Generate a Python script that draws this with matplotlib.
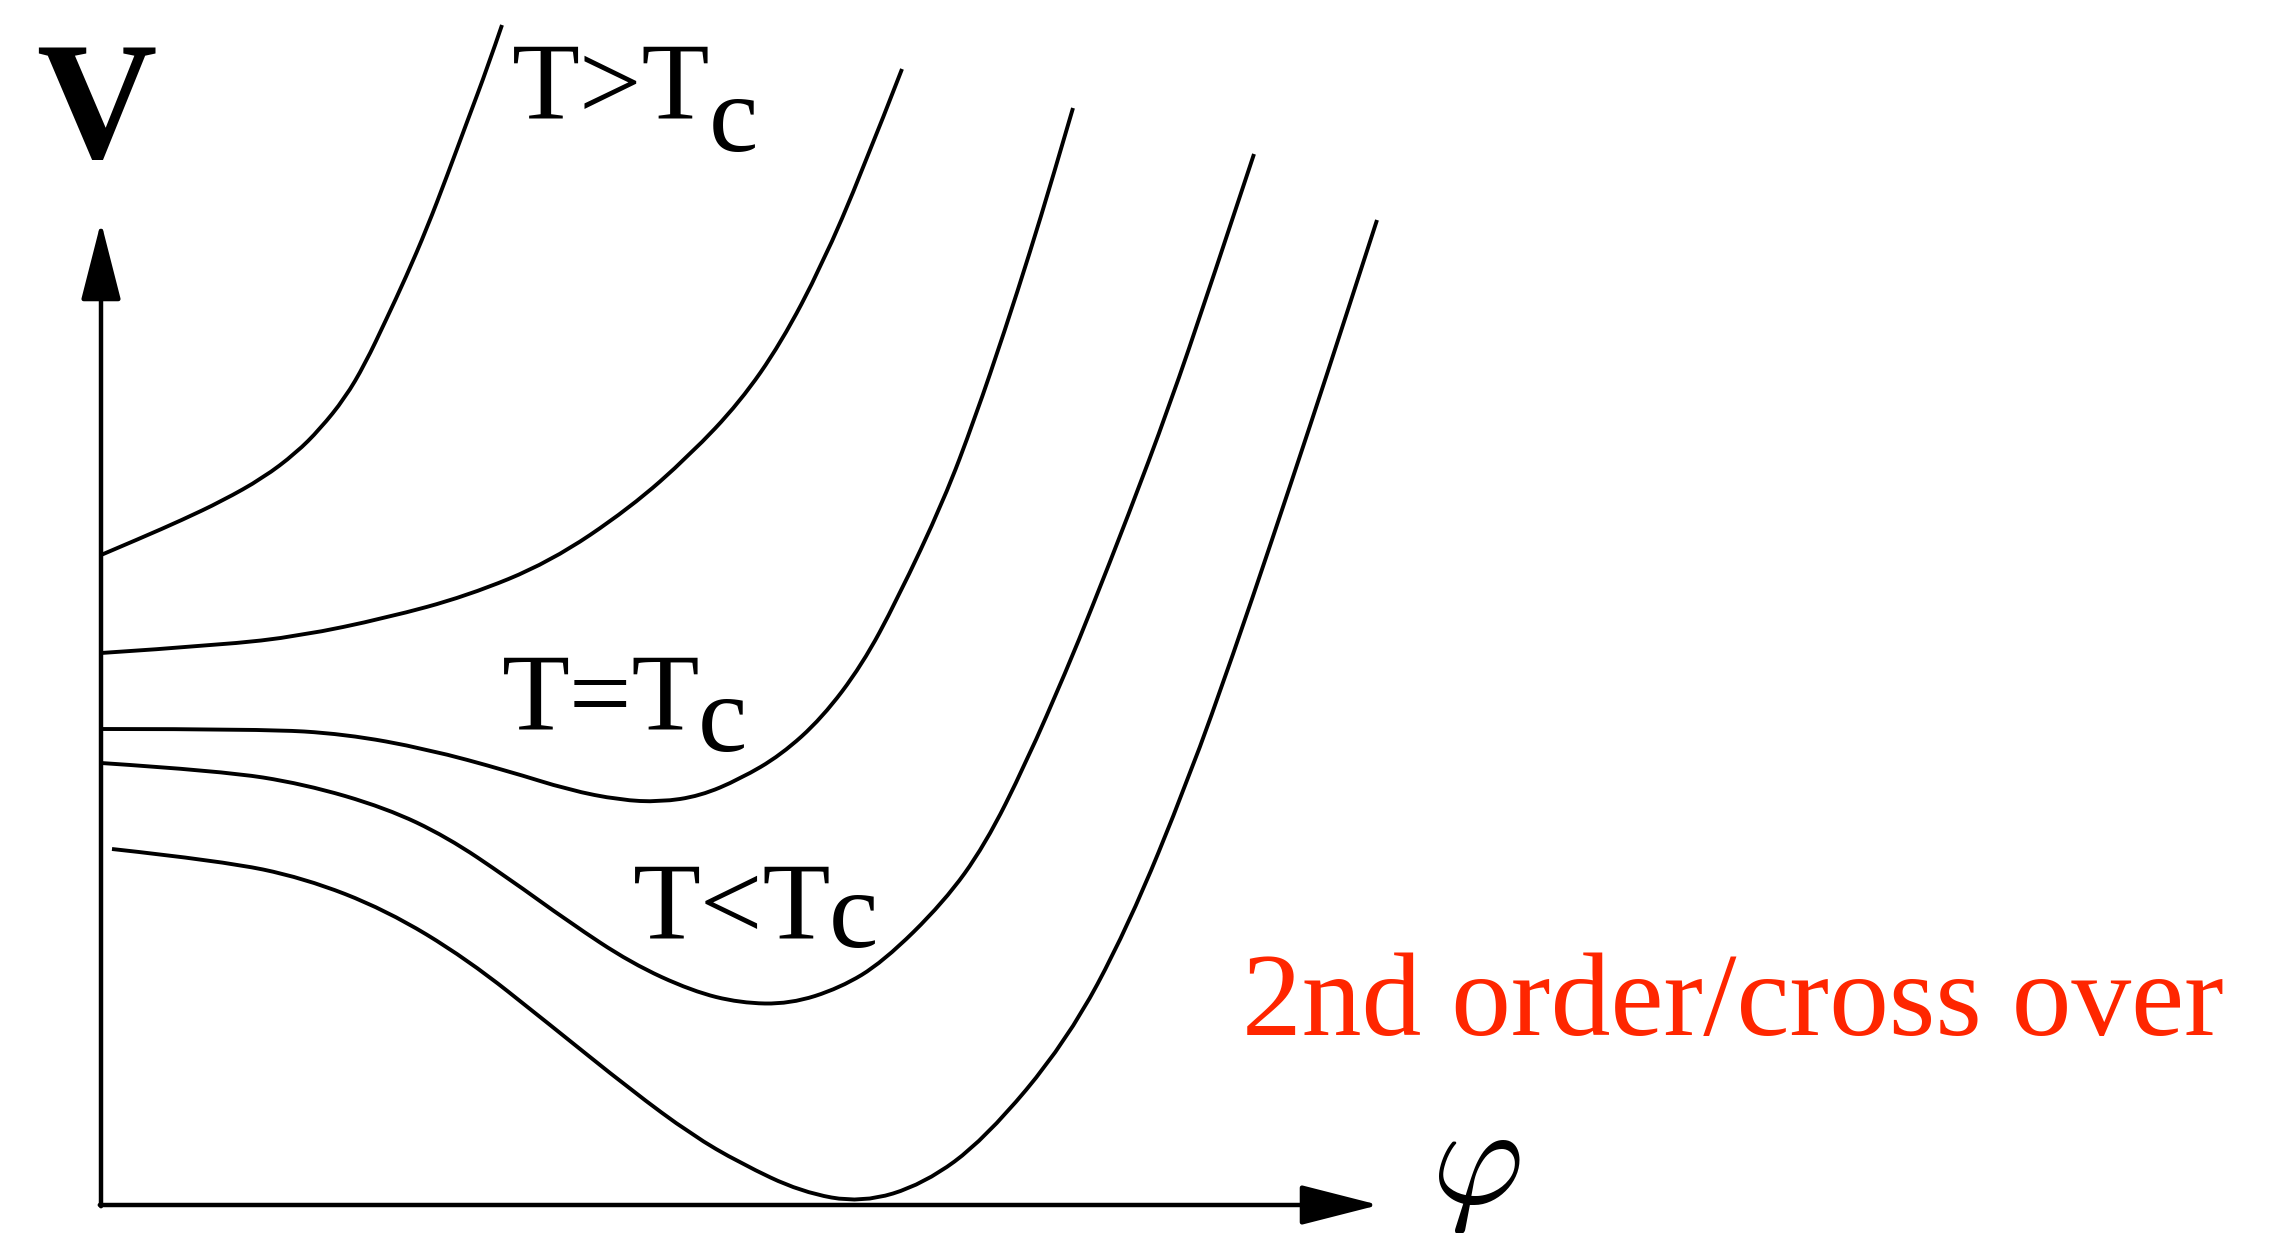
"""Sketch of the Landau free energy V(phi) for a second order / crossover transition."""

import matplotlib

matplotlib.use("Agg")

import matplotlib.pyplot as plt  # noqa: E402
import numpy as np  # noqa: E402
from matplotlib.patches import PathPatch  # noqa: E402
from matplotlib.path import Path  # noqa: E402

plt.rcParams["mathtext.fontset"] = "cm"
SERIF = ["Liberation Serif", "DejaVu Serif"]

# V(phi) curves, from high temperature (top) down to low temperature (bottom)
PHI_HOT = [0.00, 0.40, 0.81, 1.21, 1.62, 1.95, 2.19, 2.44, 2.64, 2.85, 3.05, 3.26, 3.46, 3.66, 3.87, 4.01]
V_HOT = [6.50, 6.67, 6.85, 7.04, 7.27, 7.52, 7.76, 8.07, 8.41, 8.85, 9.28, 9.77, 10.29, 10.83, 11.39, 11.80]

PHI_WARM = [0.00, 1.21, 1.99, 2.85, 3.66, 4.49, 5.29, 5.89, 6.39, 6.80, 7.21, 7.61, 8.01]
V_WARM = [5.52, 5.60, 5.69, 5.87, 6.09, 6.43, 6.97, 7.50, 8.03, 8.62, 9.40, 10.33, 11.36]

PHI_CRIT = [0.00, 1.62, 2.44, 3.26, 4.07, 4.68, 5.19, 5.59, 5.99, 6.39, 6.80, 7.21, 7.61, 7.96,
            8.43, 8.74, 9.04, 9.29, 9.51, 9.72]
V_CRIT = [4.76, 4.76, 4.71, 4.56, 4.34, 4.15, 4.05, 4.03, 4.09, 4.26, 4.50, 4.87, 5.40, 6.05,
          7.05, 7.87, 8.75, 9.53, 10.25, 10.97]

PHI_COOL = [0.00, 1.21, 2.03, 2.85, 3.46, 4.07, 4.68, 5.30, 5.91, 6.39, 6.89, 7.39, 7.82, 8.43,
            8.84, 9.25, 9.66, 9.90, 10.27, 10.68, 11.08, 11.53]
V_COOL = [4.42, 4.34, 4.21, 3.97, 3.68, 3.27, 2.83, 2.42, 2.14, 2.02, 2.01, 2.17, 2.43, 3.03,
          3.60, 4.42, 5.36, 5.95, 6.89, 7.98, 9.15, 10.51]

PHI_COLD = [0.11, 1.21, 2.03, 2.85, 3.66, 4.48, 5.30, 5.91, 6.39, 7.00, 7.61, 8.23, 8.84, 9.66,
            10.27, 10.88, 11.33, 11.70, 12.10, 12.43, 12.76]
V_COLD = [3.56, 3.44, 3.27, 2.95, 2.46, 1.81, 1.15, 0.70, 0.42, 0.13, 0.02, 0.21, 0.66, 1.64,
          2.78, 4.27, 5.53, 6.62, 7.82, 8.83, 9.85]

CURVES = [
    (PHI_HOT, V_HOT),
    (PHI_WARM, V_WARM),
    (PHI_CRIT, V_CRIT),
    (PHI_COOL, V_COOL),
    (PHI_COLD, V_COLD),
]

PHI_AXIS_END = 12.78
V_AXIS_END = 9.83


def smooth_path(xs, ys):
    """Quadratic Bezier path through the midpoints, using the samples as control points."""
    pts = np.column_stack([xs, ys])
    verts = [pts[0]]
    codes = [Path.MOVETO]
    for i in range(1, len(pts) - 1):
        mid = (pts[i] + pts[i + 1]) / 2 if i < len(pts) - 2 else pts[i + 1]
        verts += [pts[i], mid]
        codes += [Path.CURVE3, Path.CURVE3]
    return Path(verts, codes)


fig = plt.figure(figsize=(22.9, 12.33), dpi=100)
ax = fig.add_axes([0, 0, 1, 1])
ax.set_xlim(-1.01, 21.89)
ax.set_ylim(-0.28, 12.05)
ax.axis("off")

for phi, v in CURVES:
    ax.add_patch(PathPatch(smooth_path(phi, v), facecolor="none", edgecolor="black",
                           linewidth=2.8, capstyle="butt"))

arrow = dict(arrowstyle="-|>,head_length=0.49,head_width=0.125", color="black",
             linewidth=3.2, shrinkA=0, shrinkB=0, mutation_scale=100)
ax.annotate("", xy=(PHI_AXIS_END, 0), xytext=(-0.012, 0), arrowprops=arrow)
ax.annotate("", xy=(0, V_AXIS_END), xytext=(0, -0.012), arrowprops=arrow)

ax.text(-0.05, 10.48, "V", family=SERIF, fontweight="bold", fontsize=120,
        ha="center", va="baseline")
ax.text(13.30, 0.02, r"$\varphi$", fontsize=102, ha="left", va="baseline")

label_kw = dict(family=SERIF, fontsize=80, ha="left", va="baseline")
ax.text(4.11, 10.87, "T>T", **label_kw)
ax.text(6.08, 10.54, "c", **label_kw)
ax.text(4.01, 4.76, "T=T", **label_kw)
ax.text(5.97, 4.54, "c", **label_kw)
ax.text(5.32, 2.67, "T<T", **label_kw)
ax.text(7.28, 2.58, "c", **label_kw)

ax.text(11.41, 1.70, "2nd order/cross over", family=SERIF, fontsize=86,
        color="#ff2600", ha="left", va="baseline")

fig.savefig("out.png", dpi=100, facecolor="white")
